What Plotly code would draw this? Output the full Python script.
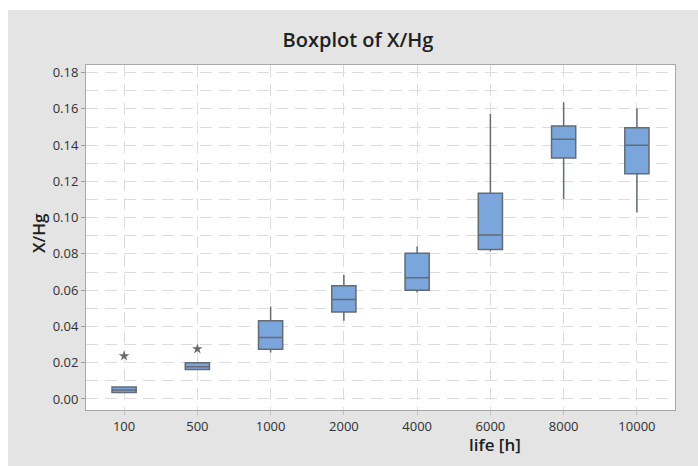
import plotly.graph_objects as go

# ---- data ----
categories = ["100", "500", "1000", "2000", "4000", "6000", "8000", "10000"]
q1_vals = [0.0035, 0.0162, 0.0274, 0.0480, 0.0600, 0.0824, 0.1329, 0.1242]
median_vals = [0.0050, 0.0178, 0.0339, 0.0548, 0.0668, 0.0904, 0.1432, 0.1399]
q3_vals = [0.0066, 0.0199, 0.0431, 0.0624, 0.0804, 0.1134, 0.1506, 0.1496]
low_whisker = [0.0035, 0.0162, 0.0256, 0.0431, 0.0587, 0.0813, 0.1103, 0.1029]
high_whisker = [0.0066, 0.0199, 0.0510, 0.0685, 0.0841, 0.1572, 0.1636, 0.1603]
outlier_x = ["100", "500"]
outlier_y = [0.0237, 0.0276]
y_tick_vals = [0.00, 0.02, 0.04, 0.06, 0.08, 0.10, 0.12, 0.14, 0.16, 0.18]

BG = "#e4e4e4"
GRID = "#dcdcdc"
FRAME = "#a8a8a8"
TXT = "#303030"
FONT = "Open Sans"

fig = go.Figure()
fig.add_trace(go.Box(
    x=categories,
    q1=q1_vals, median=median_vals, q3=q3_vals,
    lowerfence=low_whisker, upperfence=high_whisker,
    boxpoints=False,
    width=0.33,
    whiskerwidth=0,
    fillcolor="#7ba6db",
    line=dict(color="#646b74", width=1.5),
    showlegend=False,
    hoverinfo="skip",
))
fig.add_trace(go.Scatter(
    x=outlier_x, y=outlier_y, mode="markers",
    marker=dict(symbol="star", size=8, color="#6a6a6a"),
    showlegend=False, hoverinfo="skip",
))

W, H = 698, 466
L, R, T, B = 86, 23, 65, 56
pw, ph = W - L - R, H - T - B

def px_x(p):
    return (p - L) / pw

def px_y(p):
    return (H - B - p) / ph

fig.update_layout(
    width=W, height=H,
    margin=dict(l=L, r=R, t=T, b=B, pad=0),
    paper_bgcolor=BG,
    plot_bgcolor="white",
    font=dict(family=FONT, size=13, color=TXT),
    title=dict(text="Boxplot of X/Hg", xref="container", yref="container",
               x=358 / W, y=1 - 40 / H, xanchor="center", yanchor="middle",
               font=dict(family=FONT, size=20, color="#202020", weight=600)),
    xaxis=dict(
        type="category", range=[-0.52, 7.52],
        showline=True, mirror=True, linecolor=FRAME, linewidth=1,
        ticks="outside", ticklen=4, tickcolor="#c0c0c0",
        showgrid=True, gridcolor=GRID, gridwidth=1, griddash="12px,7px",
        tickfont=dict(size=13, color=TXT),
        zeroline=False,
    ),
    yaxis=dict(
        range=[-0.0061, 0.1842],
        tickvals=y_tick_vals, tickformat=".2f",
        showline=True, mirror=True, linecolor=FRAME, linewidth=1,
        ticks="outside", ticklen=4, tickcolor="#a0a0a0",
        showgrid=True, gridcolor=GRID, gridwidth=1, griddash="12px,7px",
        minor=dict(dtick=0.01, tick0=0, showgrid=True, gridcolor=GRID,
                   gridwidth=1, griddash="12px,7px"),
        tickfont=dict(size=13, color=TXT),
        zeroline=False,
    ),
    annotations=[
        dict(text="life [h]", xref="paper", yref="paper",
             x=px_x(495), y=px_y(444), xanchor="center", yanchor="middle",
             showarrow=False,
             font=dict(family=FONT, size=17, color="#202020", weight=600)),
        dict(text="X/Hg", xref="paper", yref="paper", textangle=-90,
             x=px_x(38), y=px_y(233), xanchor="center", yanchor="middle",
             showarrow=False,
             font=dict(family=FONT, size=17, color="#202020", weight=600)),
    ],
    shapes=[
        dict(type="rect", xref="paper", yref="paper",
             x0=px_x(-2), x1=px_x(8), y0=px_y(H + 2), y1=px_y(-2),
             fillcolor="white", line=dict(width=0), layer="above"),
        dict(type="rect", xref="paper", yref="paper",
             x0=px_x(-2), x1=px_x(W + 2), y0=px_y(10), y1=px_y(-2),
             fillcolor="white", line=dict(width=0), layer="above"),
    ],
)

fig.write_html("out.html")
